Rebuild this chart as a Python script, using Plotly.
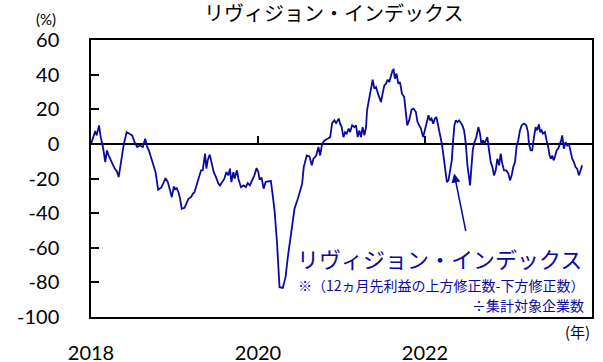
import plotly.graph_objects as go

# Revision index (decimal years, %)
years = [
    2018.000, 2018.036, 2018.051, 2018.068, 2018.096, 2018.116, 2018.143, 2018.171, 2018.191, 2018.211,
    2018.243, 2018.266, 2018.290, 2018.311, 2018.331, 2018.362, 2018.394, 2018.427, 2018.462, 2018.493,
    2018.522, 2018.553, 2018.582, 2018.621, 2018.649, 2018.673, 2018.693, 2018.720, 2018.744, 2018.773,
    2018.804, 2018.840, 2018.864, 2018.892, 2018.920, 2018.940, 2018.968, 2018.992, 2019.007, 2019.024,
    2019.048, 2019.067, 2019.087, 2019.119, 2019.143, 2019.167, 2019.198, 2019.219, 2019.239, 2019.258,
    2019.287, 2019.318, 2019.338, 2019.366, 2019.382, 2019.398, 2019.422, 2019.446, 2019.470, 2019.497,
    2019.526, 2019.545, 2019.569, 2019.597, 2019.621, 2019.645, 2019.664, 2019.681, 2019.705, 2019.720,
    2019.748, 2019.765, 2019.796, 2019.828, 2019.855, 2019.876, 2019.903, 2019.935, 2019.956, 2019.983,
    2020.004, 2020.019, 2020.043, 2020.067, 2020.091, 2020.115, 2020.154, 2020.174, 2020.198, 2020.226,
    2020.258, 2020.297, 2020.330, 2020.357, 2020.398, 2020.437, 2020.477, 2020.505, 2020.529, 2020.548,
    2020.569, 2020.584, 2020.616, 2020.644, 2020.664, 2020.697, 2020.724, 2020.744, 2020.768, 2020.796,
    2020.835, 2020.864, 2020.888, 2020.915, 2020.935, 2020.967, 2020.983, 2021.002, 2021.023, 2021.043,
    2021.062, 2021.086, 2021.103, 2021.127, 2021.154, 2021.174, 2021.194, 2021.214, 2021.234, 2021.253,
    2021.274, 2021.294, 2021.306, 2021.333, 2021.354, 2021.373, 2021.393, 2021.413, 2021.444, 2021.473,
    2021.492, 2021.513, 2021.533, 2021.552, 2021.572, 2021.593, 2021.612, 2021.624, 2021.640, 2021.659,
    2021.680, 2021.700, 2021.724, 2021.751, 2021.772, 2021.787, 2021.811, 2021.839, 2021.863, 2021.891,
    2021.910, 2021.931, 2021.951, 2021.978, 2021.999, 2022.023, 2022.042, 2022.059, 2022.078, 2022.098,
    2022.118, 2022.137, 2022.158, 2022.182, 2022.202, 2022.221, 2022.241, 2022.262, 2022.281, 2022.301,
    2022.321, 2022.337, 2022.352, 2022.369, 2022.388, 2022.409, 2022.429, 2022.448, 2022.468, 2022.489,
    2022.508, 2022.528, 2022.540, 2022.556, 2022.572, 2022.591, 2022.615, 2022.639, 2022.659, 2022.675,
    2022.695, 2022.711, 2022.728, 2022.747, 2022.767, 2022.787, 2022.807, 2022.827, 2022.847, 2022.866,
    2022.887, 2022.907, 2022.926, 2022.946, 2022.974, 2022.998, 2023.018, 2023.038, 2023.057, 2023.078,
    2023.098, 2023.117, 2023.137, 2023.158, 2023.185, 2023.213, 2023.233, 2023.245, 2023.265, 2023.284,
    2023.305, 2023.325, 2023.344, 2023.364, 2023.380, 2023.397, 2023.412, 2023.436, 2023.456, 2023.476,
    2023.492, 2023.508, 2023.524, 2023.540, 2023.556, 2023.576, 2023.595, 2023.612, 2023.631, 2023.643,
    2023.663, 2023.684, 2023.703, 2023.723, 2023.742, 2023.763, 2023.783, 2023.803, 2023.822, 2023.842,
    2023.863, 2023.882,
]
revision_index = [
    0.0, 5.9, 7.4, 4.9, 10.7, 3.9, -1.8, -10.5, -3.8, -6.6,
    -10.5, -12.4, -14.7, -15.9, -19.2, -9.5, 0.1, 6.8, 5.9, 4.9,
    1.0, -1.8, -0.9, -1.8, 3.0, -1.8, -3.8, -7.6, -11.5, -16.3,
    -26.5, -25.3, -23.0, -19.8, -22.1, -25.3, -30.8, -24.6, -26.5, -25.3,
    -27.9, -31.7, -37.5, -36.9, -34.6, -31.7, -30.8, -28.8, -27.9, -25.0,
    -20.1, -15.3, -15.3, -5.7, -14.3, -9.5, -6.2, -12.4, -16.3, -19.2,
    -23.0, -24.0, -22.1, -20.1, -16.3, -18.2, -14.3, -22.1, -16.3, -20.1,
    -15.3, -20.1, -25.0, -24.0, -25.0, -22.7, -24.0, -20.5, -18.2, -14.0,
    -16.3, -20.7, -19.5, -25.9, -22.1, -21.7, -21.5, -28.8, -38.5, -55.8,
    -82.8, -83.2, -77.0, -65.5, -50.0, -37.5, -31.7, -26.9, -23.0, -13.4,
    -8.6, -6.7, -7.2, -12.4, -8.6, -6.7, -1.8, -6.7, 0.0, 2.0,
    3.0, 3.9, 12.0, 13.6, 12.0, 14.6, 11.7, 9.7, 3.9, 6.8,
    5.9, 8.8, 6.8, 10.7, 9.7, 10.7, 3.9, 7.8, 3.9, 9.7,
    4.9, 9.7, 19.4, 27.0, 33.8, 37.1, 31.9, 32.8, 28.0, 24.2,
    29.0, 33.8, 34.8, 37.1, 35.7, 39.6, 42.5, 42.9, 37.7, 40.6,
    34.8, 35.7, 29.0, 27.0, 16.5, 10.7, 13.6, 19.8, 20.4, 18.4,
    12.6, 10.7, 8.8, 3.9, 7.8, 11.7, 16.5, 13.6, 14.6, 11.7,
    14.6, 15.5, 10.7, 5.9, 0.0, -6.7, -15.3, -22.1, -21.1, -16.3,
    -9.5, 2.0, 10.7, 13.6, 12.6, 13.6, 11.7, 10.7, 7.8, 0.0,
    -12.4, -21.1, -24.0, -13.4, -3.8, 1.0, 3.9, 9.7, 5.9, 0.0,
    2.0, 0.0, 2.0, 3.9, -3.8, -10.5, -13.4, -18.2, -15.3, -8.6,
    -12.4, -5.7, -11.5, -15.3, -15.3, -17.2, -21.1, -18.2, -13.4, -10.5,
    -0.9, 2.0, 7.8, 10.7, 11.7, 10.7, 6.8, 0.0, -3.8, -3.8,
    3.9, 9.7, 7.8, 11.3, 6.8, 7.8, 5.9, 6.8, 2.0, -1.8,
    -6.7, -8.6, -6.7, -9.5, -7.6, -3.8, -2.8, -0.9, 2.0, 4.9,
    -2.8, 1.0, -0.9, 0.0, -3.8, -8.6, -10.5, -13.4, -14.3, -18.2,
    -15.3, -12.4,
]

tick_years = [2018, 2020, 2022]
tick_labels = ["2018", "2020", "2022"]
y_ticks = [60, 40, 20, 0, -20, -40, -60, -80, -100]
y_tick_labels = ["60", "40", "20", "0", "-20", "-40", "-60", "-80", "-100"]

blue = "#0a0aa0"
num_font = "Lato, 'Liberation Sans', sans-serif"
jp_font = "'Noto Sans CJK JP', sans-serif"

fig = go.Figure()
fig.add_trace(go.Scatter(x=years, y=revision_index, mode="lines",
                         line=dict(color=blue, width=1.8), showlegend=False, hoverinfo="skip"))
# dummy trace so the zero-line tick axis gets drawn
fig.add_trace(go.Scatter(x=[2018], y=[0], xaxis="x2", mode="markers",
                         marker=dict(opacity=0), showlegend=False, hoverinfo="skip"))

fig.update_layout(
    width=603, height=362,
    margin=dict(l=91, r=11, t=40, b=45),
    plot_bgcolor="white", paper_bgcolor="white",
    xaxis=dict(range=[2018, 2024], tickvals=tick_years, ticktext=tick_labels,
               automargin=False,
               showgrid=False, zeroline=False, showline=True, mirror=True,
               linecolor="black", linewidth=1.5, ticks="", ticklabelstandoff=17,
               tickfont=dict(family=num_font, size=20, color="black")),
    xaxis2=dict(range=[2018, 2024], overlaying="x", anchor="free", position=0.625,
                automargin=False,
                tickvals=tick_years, ticks="inside", ticklen=8, tickwidth=1.5,
                tickcolor="black", showticklabels=False, showgrid=False,
                zeroline=False, showline=False),
    yaxis=dict(range=[-100, 60], tickvals=y_ticks, ticktext=y_tick_labels,
               automargin=False, showgrid=False,
               zeroline=True, zerolinecolor="black", zerolinewidth=1.5,
               showline=True, mirror=True, linecolor="black", linewidth=1.5,
               ticks="inside", ticklen=8, tickwidth=1.5, tickcolor="black",
               ticklabelstandoff=26,
               tickfont=dict(family=num_font, size=20, color="black")),
)

# title and unit labels
fig.add_annotation(text="リヴィジョン・インデックス", xref="paper", yref="paper",
                   x=0.485, y=1.101, xanchor="center", yanchor="middle", showarrow=False,
                   font=dict(family=jp_font, size=20, color="black"))
fig.add_annotation(text="(%)", xref="paper", yref="paper", x=-0.0898, y=1.076,
                   xanchor="center", yanchor="middle",
                   showarrow=False, font=dict(family=num_font, size=15, color="black"))
fig.add_annotation(text="(年)", xref="paper", yref="paper", x=0.971, y=-0.054,
                   xanchor="center", yanchor="middle",
                   showarrow=False, font=dict(family=jp_font, size=15, color="black"))

# series label with note
fig.add_annotation(text="リヴィジョン・インデックス", x=2023.90, y=-66.2,
                   xanchor="right", yanchor="middle",
                   showarrow=False, font=dict(family=jp_font, size=22, color=blue))
fig.add_annotation(text="※（12ヵ月先利益の上方修正数-下方修正数）", x=2023.93, y=-81.3,
                   xanchor="right", yanchor="middle", showarrow=False,
                   font=dict(family=jp_font, size=14, color=blue))
fig.add_annotation(text="÷集計対象企業数", x=2023.93, y=-92.8,
                   xanchor="right", yanchor="middle",
                   showarrow=False, font=dict(family=jp_font, size=14, color=blue))
fig.add_annotation(text="", x=2022.349, y=-17.1, ax=2022.492, ay=-51.2,
                   axref="x", ayref="y", showarrow=True, arrowhead=2,
                   arrowsize=1.2, arrowwidth=1.5, arrowcolor=blue)

# drop the default page margin so the figure sits at the window's corner
fig.write_html("out.html", config={"displayModeBar": False},
               post_script="document.body.style.margin='0';")
